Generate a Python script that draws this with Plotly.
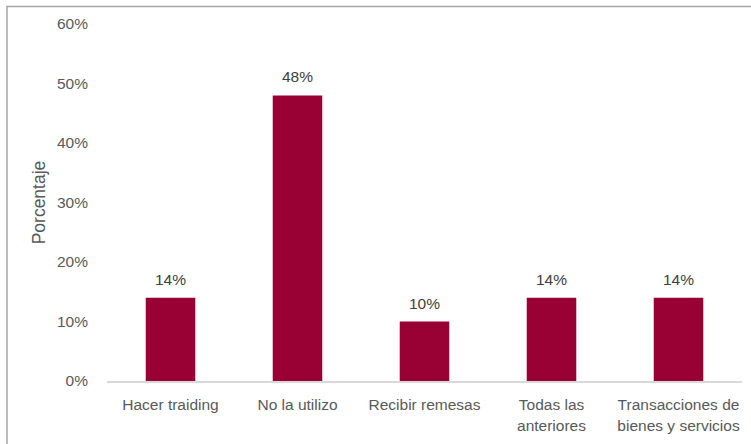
import plotly.graph_objects as go

categories = ["Hacer traiding", "No la utilizo", "Recibir remesas",
              "Todas las<br>anteriores", "Transacciones de<br>bienes y servicios"]
values = [0.14, 0.48, 0.10, 0.14, 0.14]
value_labels = ["14%", "48%", "10%", "14%", "14%"]
y_tick_vals = [0, 0.1, 0.2, 0.3, 0.4, 0.5, 0.6]
y_tick_text = ["0%", "10%", "20%", "30%", "40%", "50%", "60%"]

FONT = "Liberation Sans, Arial, sans-serif"
W, H = 751, 444
ml, mr, mt, mb = 107, 9, 24, 63
pw, ph = W - ml - mr, H - mt - mb

fig = go.Figure(go.Bar(
    x=categories, y=values,
    marker=dict(color="#990033", line=dict(width=0)),
    hoverinfo="skip",
))

for c, v, t in zip(categories, values, value_labels):
    fig.add_annotation(x=c, y=v, text=t, showarrow=False, yanchor="bottom",
                       yshift=8, font=dict(family=FONT, size=15.5, color="#404040"))

# outer border frame
fig.add_shape(type="rect", xref="paper", yref="paper",
              x0=(7 - ml) / pw, x1=(W + 20 - ml) / pw,
              y0=-(H + 20 - mt - ph) / ph, y1=1 + (mt - 6.5) / ph,
              line=dict(color="#a6a6a6", width=1.5), fillcolor="rgba(0,0,0,0)",
              layer="above")

fig.update_layout(
    width=W, height=H,
    margin=dict(l=ml, r=mr, t=mt, b=mb, pad=0),
    paper_bgcolor="white", plot_bgcolor="white",
    bargap=0.61,
    showlegend=False,
    font=dict(family=FONT, size=15.5, color="#595959"),
    xaxis=dict(showline=True, linecolor="#d9d9d9", linewidth=1.5,
               showgrid=False, ticks="", ticklabelstandoff=9,
               tickfont=dict(size=15.5, color="#595959"),
               fixedrange=True),
    yaxis=dict(range=[0, 0.6], tickvals=y_tick_vals, ticktext=y_tick_text,
               showgrid=False, zeroline=False, showline=False, ticks="",
               ticklabelstandoff=18,
               tickfont=dict(size=15.5, color="#595959"),
               title=dict(text="Porcentaje", standoff=6,
                          font=dict(size=17.5, color="#595959")),
               fixedrange=True),
)

fig.write_html("out.html", config={"displayModeBar": False},
               post_script="document.body.style.margin='0';")
